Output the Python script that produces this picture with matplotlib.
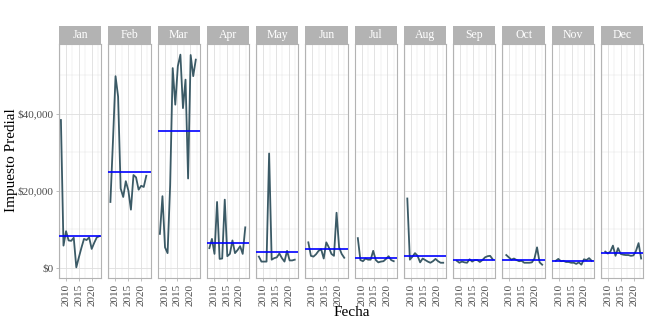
import matplotlib

matplotlib.use("Agg")
import matplotlib.pyplot as plt
from matplotlib.ticker import FixedLocator, FuncFormatter

plt.rcParams["font.family"] = ["Liberation Serif", "DejaVu Serif"]

months = ["Jan", "Feb", "Mar", "Apr", "May", "Jun",
          "Jul", "Aug", "Sep", "Oct", "Nov", "Dec"]
start_year = 2008

# monthly values per year, starting in 2008 (Jan runs to 2023)
jan = [38400, 5750, 9500, 7100, 7000, 7800, 100, 2700, 5200, 7500, 7200, 7900, 4900, 6500, 7900, 8200]
feb = [17100, 33000, 49800, 44500, 20600, 18400, 22500, 20100, 15100, 24100, 23500, 20300, 21300, 21000, 23900]
mar = [8800, 18600, 5300, 3800, 21400, 51900, 42400, 52400, 55400, 41500, 48900, 23200, 55300, 49800, 54100]
apr = [5100, 7500, 3600, 17100, 2300, 2400, 17700, 3000, 3600, 7100, 3800, 4600, 5600, 3600, 10500]
may = [2900, 1600, 1600, 1600, 29700, 2100, 2500, 2700, 3700, 2500, 1600, 4400, 1900, 1900, 2100]
jun = [6600, 3100, 2900, 3500, 4400, 4800, 2400, 6600, 5300, 3600, 3100, 14300, 5300, 3600, 2600]
jul = [7700, 2000, 1700, 2400, 2100, 2100, 4400, 2000, 1400, 1600, 1700, 2300, 3000, 2000, 1700]
aug = [18000, 2100, 2900, 3800, 3100, 1400, 2400, 2000, 1600, 1300, 1700, 2300, 1700, 1300, 1300]
sep = [1800, 1300, 1600, 1400, 1300, 2200, 1600, 2000, 2000, 1500, 2000, 2700, 3000, 3100, 2200]
oct_ = [3300, 2700, 2100, 2400, 2000, 1700, 1800, 1300, 1300, 1300, 1400, 2400, 5300, 1400, 800]
nov = [1800, 2300, 1700, 1800, 1500, 1500, 1300, 1300, 1000, 1400, 800, 2200, 2000, 2500, 1800]
dec = [4200, 3700, 4200, 5750, 3100, 5100, 3600, 3400, 3300, 3300, 3100, 3200, 4400, 6400, 2400]

series = [jan, feb, mar, apr, may, jun, jul, aug, sep, oct_, nov, dec]

W, H = 650, 325
fig = plt.figure(figsize=(W / 100, H / 100), dpi=100)

# shared scales (ggplot style 5% expansion)
x_min, x_max = start_year, start_year + len(jan) - 1
x_pad = (x_max - x_min) * 0.05
all_vals = [v for s in series for v in s]
y_lo, y_hi = min(all_vals), max(all_vals)
y_pad = (y_hi - y_lo) * 0.05

left0, pitch, pw = 59, 49.27, 42.3
top, bottom, strip_h = 44, 278, 18

line_col = "#3b5a66"
grid_col = "#DEDEDE"
border_col = "#B3B3B3"

for i, (name, vals) in enumerate(zip(months, series)):
    left = left0 + i * pitch
    ax = fig.add_axes([left / W, (H - bottom) / H, pw / W, (bottom - top) / H])
    xs = [start_year + k + i / 12 for k in range(len(vals))]
    mean = sum(vals) / len(vals)
    ax.plot(xs, vals, color=line_col, linewidth=1.3, zorder=3)
    ax.axhline(mean, color="blue", linewidth=1.2, zorder=4)

    ax.set_xlim(x_min - x_pad, x_max + x_pad)
    ax.set_ylim(y_lo - y_pad, y_hi + y_pad)
    ax.xaxis.set_major_locator(FixedLocator([2010, 2015, 2020]))
    ax.xaxis.set_minor_locator(FixedLocator([2007.5, 2012.5, 2017.5, 2022.5]))
    ax.yaxis.set_major_locator(FixedLocator([0, 20000, 40000]))
    ax.yaxis.set_minor_locator(FixedLocator([10000, 30000, 50000]))
    ax.grid(which="major", color=grid_col, linewidth=0.6)
    ax.grid(which="minor", color=grid_col, linewidth=0.3)
    ax.set_axisbelow(True)
    for sp in ax.spines.values():
        sp.set_color(border_col)
        sp.set_linewidth(0.8)
    ax.tick_params(axis="both", which="major", color=border_col, length=2.5,
                   width=0.6, labelsize=8, labelcolor="#4D4D4D", pad=1.5)
    ax.tick_params(which="minor", length=0)
    for lab in ax.get_xticklabels():
        lab.set_rotation(90)
    if i == 0:
        ax.yaxis.set_major_formatter(FuncFormatter(lambda v, p: f"${v:,.0f}"))
    else:
        ax.tick_params(axis="y", which="major", length=0, labelleft=False)

    sax = fig.add_axes([left / W, (H - top) / H, pw / W, strip_h / H])
    sax.set_facecolor(border_col)
    sax.set_xticks([])
    sax.set_yticks([])
    for sp in sax.spines.values():
        sp.set_visible(False)
    sax.text(0.5, 0.5, name, color="white", fontsize=8.5,
             ha="center", va="center", transform=sax.transAxes)

fig.text(12 / W, 1 - 160 / H, "Impuesto Predial", rotation=90,
         ha="center", va="center", fontsize=11)
fig.text(352 / W, 1 - 313 / H, "Fecha", ha="center", va="center", fontsize=11)

fig.savefig("out.png", dpi=100)
